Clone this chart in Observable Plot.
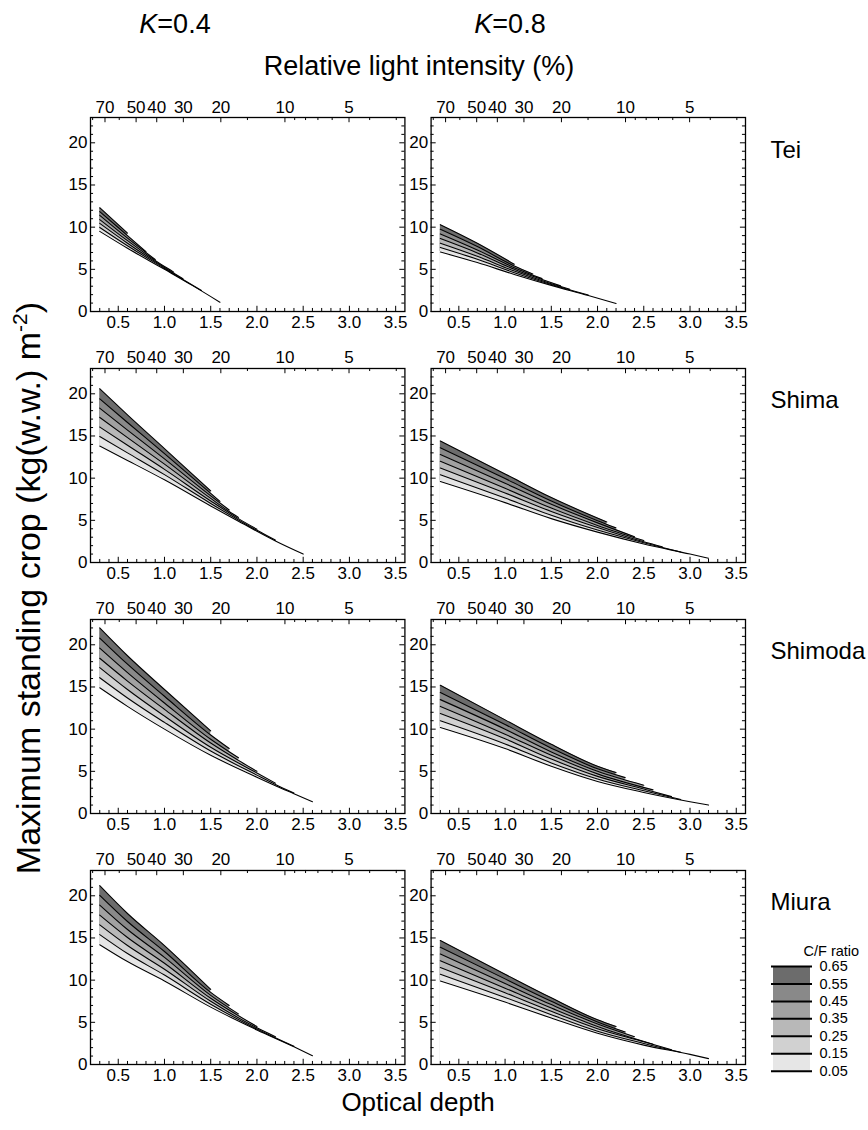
<!DOCTYPE html>
<html>
<head>
<meta charset="utf-8">
<script src="https://cdn.jsdelivr.net/npm/d3@7"></script>
<script src="https://cdn.jsdelivr.net/npm/@observablehq/plot@0.6"></script>
<style>
  html, body { margin: 0; padding: 0; background: #fff; overflow: hidden; }
  #wrap { position: relative; width: 868px; height: 1130px; overflow: hidden; }
  #chart { position: absolute; left: 0; top: 0; }
  #legend { position: absolute; left: 760px; top: 930px; }
</style>
</head>
<body>
<div id="wrap"><div id="chart"></div><div id="legend"></div></div>
<script>
// ---------- data ----------
const cfRatios = [0.05, 0.15, 0.25, 0.35, 0.45, 0.55, 0.65];
const kValues = ["0.4", "0.8"];
const sites = ["Tei", "Shima", "Shimoda", "Miura"];
const xTickLabels = [0.5, 1.0, 1.5, 2.0, 2.5, 3.0, 3.5];
const yTickLabels = [0, 5, 10, 15, 20];
const lightTickLabels = [70, 50, 40, 30, 20, 10, 5];
const lightMinorTicks = [80, 60, 15, 9, 8, 7, 6, 4, 3];
// band colours: 0.05-0.15, 0.15-0.25, ..., 0.55-0.65
const bandShades = ["#e6e6e6", "#d1d1d1", "#b8b8b8", "#a1a1a1", "#898989", "#6c6c6c"];

// each curve: [optical depth, max standing crop]; index 0 = C/F 0.05 ... 6 = C/F 0.65
const teiK04 = [
  [[0.3, 9.5], [0.6, 7.5], [1.0, 5.0], [1.3, 3.1], [1.6, 1.1]],
  [[0.3, 9.97], [0.6, 7.8], [1.0, 5.11], [1.4, 2.5]],
  [[0.3, 10.45], [0.6, 8.1], [1.0, 5.22], [1.2, 3.89]],
  [[0.3, 10.9], [0.6, 8.4], [1.0, 5.33], [1.1, 4.67]],
  [[0.3, 11.4], [0.6, 8.7], [0.9, 6.16]],
  [[0.3, 11.85], [0.6, 9.0], [0.8, 7.1]],
  [[0.3, 12.3], [0.45, 10.8], [0.6, 9.3]]
];
const teiK08 = [
  [[0.3, 7.05], [0.7, 5.8], [1.1, 4.4], [1.5, 3.1], [1.9, 1.9], [2.2, 0.95]],
  [[0.3, 7.6], [0.7, 6.2], [1.1, 4.6], [1.5, 3.2], [1.9, 1.95]],
  [[0.3, 8.1], [0.7, 6.55], [1.1, 4.8], [1.5, 3.3], [1.7, 2.64]],
  [[0.3, 8.65], [0.7, 6.95], [1.1, 5.0], [1.6, 3.04]],
  [[0.3, 9.2], [0.7, 7.3], [1.1, 5.2], [1.4, 3.9]],
  [[0.3, 9.75], [0.7, 7.7], [1.1, 5.4], [1.3, 4.45]],
  [[0.3, 10.3], [0.7, 8.1], [1.1, 5.6]]
];
const shimaK04 = [
  [[0.3, 13.8], [0.6, 12.1], [1.0, 9.8], [1.5, 6.7], [1.8, 4.9], [2.0, 3.7], [2.2, 2.55], [2.5, 1.0]],
  [[0.3, 14.93], [0.6, 13.0], [1.0, 10.42], [1.5, 7.0], [1.8, 5.05], [2.0, 3.82], [2.2, 2.65]],
  [[0.3, 16.06], [0.6, 13.9], [1.0, 11.04], [1.5, 7.3], [1.8, 5.2], [2.0, 3.94]],
  [[0.3, 17.2], [0.6, 14.8], [1.0, 11.66], [1.5, 7.6], [1.7, 6.04], [1.8, 5.35]],
  [[0.3, 18.3], [0.6, 15.7], [1.0, 12.28], [1.5, 7.9], [1.7, 6.22]],
  [[0.3, 19.4], [0.6, 16.6], [1.0, 12.9], [1.5, 8.2], [1.6, 7.25]],
  [[0.3, 20.6], [0.6, 17.5], [1.0, 13.5], [1.5, 8.5]]
];
const shimaK08 = [
  [[0.3, 9.6], [1.0, 7.1], [1.5, 5.2], [2.0, 3.6], [2.5, 2.2], [3.0, 1.0], [3.2, 0.5]],
  [[0.3, 10.4], [1.0, 7.65], [1.5, 5.6], [2.0, 3.85], [2.5, 2.35], [2.9, 1.25]],
  [[0.3, 11.2], [1.0, 8.25], [1.5, 6.05], [2.0, 4.15], [2.5, 2.45], [2.7, 1.85]],
  [[0.3, 12.0], [1.0, 8.8], [1.5, 6.45], [2.0, 4.4], [2.5, 2.6]],
  [[0.3, 12.8], [1.0, 9.4], [1.5, 6.9], [2.0, 4.7], [2.4, 3.05]],
  [[0.3, 13.6], [1.0, 9.95], [1.5, 7.3], [2.0, 4.95], [2.2, 4.1]],
  [[0.3, 14.4], [1.0, 10.5], [1.5, 7.7], [2.1, 4.8]]
];
const shimodaK04 = [
  [[0.3, 14.9], [0.6, 12.7], [1.0, 10.0], [1.5, 6.9], [2.0, 4.3], [2.2, 3.3], [2.4, 2.35], [2.6, 1.4]],
  [[0.3, 16.1], [0.6, 13.7], [1.0, 10.8], [1.5, 7.4], [2.0, 4.55], [2.2, 3.45], [2.4, 2.43]],
  [[0.3, 17.3], [0.6, 14.7], [1.0, 11.55], [1.5, 7.85], [2.0, 4.8], [2.2, 3.6]],
  [[0.3, 18.4], [0.6, 15.7], [1.0, 12.35], [1.5, 8.35], [1.8, 6.3], [2.0, 5.0]],
  [[0.3, 19.6], [0.6, 16.7], [1.0, 13.1], [1.5, 8.8], [1.8, 6.6]],
  [[0.3, 20.8], [0.6, 17.7], [1.0, 13.9], [1.5, 9.3], [1.7, 7.7]],
  [[0.3, 22.0], [0.6, 18.7], [1.0, 14.7], [1.5, 9.8]]
];
const shimodaK08 = [
  [[0.3, 10.2], [1.0, 7.7], [1.5, 5.6], [2.0, 3.8], [2.5, 2.5], [3.0, 1.4], [3.2, 1.0]],
  [[0.3, 11.0], [1.0, 8.25], [1.5, 6.0], [2.0, 4.1], [2.5, 2.7], [2.9, 1.67]],
  [[0.3, 11.85], [1.0, 8.85], [1.5, 6.45], [2.0, 4.4], [2.5, 2.9], [2.8, 2.0]],
  [[0.3, 12.7], [1.0, 9.4], [1.5, 6.9], [2.0, 4.7], [2.6, 2.8]],
  [[0.3, 13.5], [1.0, 10.0], [1.5, 7.3], [2.0, 5.0], [2.5, 3.35]],
  [[0.3, 14.35], [1.0, 10.55], [1.5, 7.75], [2.0, 5.3], [2.3, 4.25]],
  [[0.3, 15.2], [1.0, 11.1], [1.5, 8.2], [2.0, 5.6], [2.2, 4.85]]
];
const miuraK04 = [
  [[0.3, 14.2], [0.6, 12.2], [1.0, 9.9], [1.5, 6.8], [2.0, 4.1], [2.4, 2.1], [2.6, 1.05]],
  [[0.3, 15.4], [0.6, 13.15], [1.0, 10.6], [1.5, 7.15], [2.0, 4.2], [2.4, 2.15]],
  [[0.3, 16.55], [0.6, 14.1], [1.0, 11.3], [1.5, 7.5], [2.0, 4.35], [2.2, 3.3]],
  [[0.3, 17.7], [0.6, 15.05], [1.0, 12.0], [1.5, 7.85], [2.0, 4.5]],
  [[0.3, 18.9], [0.6, 16.0], [1.0, 12.7], [1.5, 8.2], [1.8, 6.0]],
  [[0.3, 20.05], [0.6, 16.95], [1.0, 13.4], [1.5, 8.55], [1.7, 7.0]],
  [[0.3, 21.2], [0.6, 17.9], [1.0, 14.1], [1.5, 8.9]]
];
const miuraK08 = [
  [[0.3, 9.9], [1.0, 7.4], [1.5, 5.5], [2.0, 3.7], [2.5, 2.3], [3.0, 1.2], [3.2, 0.7]],
  [[0.3, 10.7], [1.0, 7.95], [1.5, 5.9], [2.0, 3.95], [2.5, 2.5], [2.9, 1.45]],
  [[0.3, 11.5], [1.0, 8.5], [1.5, 6.3], [2.0, 4.25], [2.5, 2.7], [2.8, 1.75]],
  [[0.3, 12.3], [1.0, 9.05], [1.5, 6.7], [2.0, 4.5], [2.6, 2.4]],
  [[0.3, 13.1], [1.0, 9.6], [1.5, 7.1], [2.0, 4.8], [2.4, 3.3]],
  [[0.3, 13.9], [1.0, 10.15], [1.5, 7.5], [2.0, 5.05], [2.3, 3.85]],
  [[0.3, 14.7], [1.0, 10.7], [1.5, 7.9], [2.0, 5.3], [2.2, 4.5]]
];

// ---------- build table ----------
const panels = [
  {site: "Tei", K: "0.4", curves: teiK04}, {site: "Tei", K: "0.8", curves: teiK08},
  {site: "Shima", K: "0.4", curves: shimaK04}, {site: "Shima", K: "0.8", curves: shimaK08},
  {site: "Shimoda", K: "0.4", curves: shimodaK04}, {site: "Shimoda", K: "0.8", curves: shimodaK08},
  {site: "Miura", K: "0.4", curves: miuraK04}, {site: "Miura", K: "0.8", curves: miuraK08}
];
const rows = panels.flatMap(p => p.curves.flatMap((pts, i) =>
  pts.map(([x, y]) => ({site: p.site, K: p.K, cf: cfRatios[i], x, y}))));

const FONT = '"Liberation Sans", Arial, Helvetica, sans-serif';
const xAll = d3.range(3, 36).map(d => d / 10);
const xMinor = xAll.filter(v => !xTickLabels.some(t => Math.abs(t - v) < 1e-9));
const yMinor = d3.range(1, 23).filter(v => !yTickLabels.includes(v));
const depthOf = p => -Math.log(p / 100);

// painter's order: area under highest C/F first, lowest (white) last
const areaMarks = cfRatios.map((cf, i) => ({cf, i})).reverse().map(({cf, i}) =>
  Plot.areaY(rows.filter(r => r.cf === cf), {
    x: "x", y: "y", fx: "K", fy: "site",
    fill: i === 0 ? "#ffffff" : bandShades[i - 1],
    stroke: i === 0 ? "#ffffff" : "none", strokeWidth: 1.2,
    curve: "monotone-x"
  }));

const chart = Plot.plot({
  width: 868, height: 1130,
  marginTop: 117, marginBottom: 66, marginLeft: 90, marginRight: 123,
  style: {fontFamily: FONT, fontSize: "17px", color: "#000", background: "transparent", overflow: "visible"},
  x: {domain: [0.2, 3.6], axis: null},
  y: {domain: [0, 23], axis: null},
  fx: {domain: kValues, axis: null, paddingInner: 0.0769, paddingOuter: 0, round: false},
  fy: {domain: sites, axis: null, paddingInner: 0.227, paddingOuter: 0, round: false},
  marks: [
    ...areaMarks,
    Plot.line(rows, {x: "x", y: "y", z: "cf", fx: "K", fy: "site", stroke: "#000", strokeWidth: 1.1, curve: "monotone-x"}),
    // bottom ticks (inside)
    Plot.ruleX(xMinor, {x: d => d, y1: 0, y2: 0.36, stroke: "#000", strokeWidth: 1}),
    Plot.ruleX(xTickLabels, {x: d => d, y1: 0, y2: 0.62, stroke: "#000", strokeWidth: 1}),
    // top ticks: relative light intensity
    Plot.ruleX(lightMinorTicks, {x: depthOf, y1: 23, y2: 22.64, stroke: "#000", strokeWidth: 1}),
    Plot.ruleX(lightTickLabels, {x: depthOf, y1: 23, y2: 22.38, stroke: "#000", strokeWidth: 1}),
    // left & right ticks
    Plot.ruleY(yMinor, {y: d => d, x1: 0.2, x2: 0.233, stroke: "#000", strokeWidth: 1}),
    Plot.ruleY(yTickLabels, {y: d => d, x1: 0.2, x2: 0.255, stroke: "#000", strokeWidth: 1}),
    Plot.ruleY(yMinor, {y: d => d, x1: 3.6, x2: 3.567, stroke: "#000", strokeWidth: 1}),
    Plot.ruleY(yTickLabels, {y: d => d, x1: 3.6, x2: 3.545, stroke: "#000", strokeWidth: 1}),
    Plot.frame({stroke: "#000", strokeWidth: 1.3}),
    // tick labels
    Plot.text(xTickLabels, {x: d => d, text: d => d.toFixed(1), frameAnchor: "bottom", lineAnchor: "top", dy: 4, fontSize: 17}),
    Plot.text(yTickLabels, {y: d => d, text: d => String(d), frameAnchor: "left", textAnchor: "end", dx: -3, fontSize: 17}),
    Plot.text(lightTickLabels, {x: depthOf, text: d => String(d), frameAnchor: "top", lineAnchor: "bottom", dy: -5, fontSize: 17}),
    // site names to the right of the K=0.8 column
    Plot.text(sites.map(s => ({site: s, K: "0.8"})), {fx: "K", fy: "site", text: "site", frameAnchor: "top-right", textAnchor: "start", lineAnchor: "bottom", dx: 25, dy: 40, fontSize: 24})
  ]
});
document.getElementById("chart").appendChild(chart);

// ---------- titles ----------
const svg = d3.select(chart);
function addText(x, y, anchor, size) {
  return svg.append("text").attr("x", x).attr("y", y).attr("text-anchor", anchor)
    .attr("font-size", size).attr("font-family", FONT).attr("fill", "#000");
}
[["0.4", 175], ["0.8", 510]].forEach(([k, cx]) => {
  const t = addText(cx, 33, "middle", 27);
  t.append("tspan").attr("font-style", "italic").text("K");
  t.append("tspan").text("=" + k);
});
addText(419, 75, "middle", 27).text("Relative light intensity (%)");
addText(418, 1111, "middle", 26).text("Optical depth");
const yt = addText(0, 0, "middle", 34).attr("transform", "translate(40,588) rotate(-90)");
yt.append("tspan").text("Maximum standing crop (kg(w.w.) m");
yt.append("tspan").attr("font-size", 21).attr("dy", -13).text("-2");
yt.append("tspan").attr("dy", 13).text(")");

// ---------- legend ----------
const legendBands = cfRatios.slice(0, -1).map((lo, i) => ({lo, hi: cfRatios[i + 1], fill: bandShades[i]}));
const legend = Plot.plot({
  width: 108, height: 150, margin: 0,
  style: {fontFamily: FONT, fontSize: "14px", color: "#000", background: "transparent", overflow: "visible"},
  x: {domain: [0, 1], range: [13, 50], axis: null},
  y: {domain: [0.05, 0.65], range: [140.7, 36], axis: null},
  marks: [
    Plot.rect(legendBands, {x1: 0, x2: 1, y1: "lo", y2: "hi", fill: "fill"}),
    Plot.ruleY(cfRatios, {y: d => d, x1: 0, x2: 1, insetLeft: -2, insetRight: -2, stroke: "#000", strokeWidth: 2}),
    Plot.text(cfRatios, {y: d => d, text: d => d.toFixed(2), frameAnchor: "left", textAnchor: "start", dx: 59, fontSize: 14.5}),
    Plot.text(["C/F ratio"], {text: d => d, frameAnchor: "top-left", textAnchor: "start", dx: 43, dy: 15, fontSize: 14.5})
  ]
});
document.getElementById("legend").appendChild(legend);
</script>
</body>
</html>
